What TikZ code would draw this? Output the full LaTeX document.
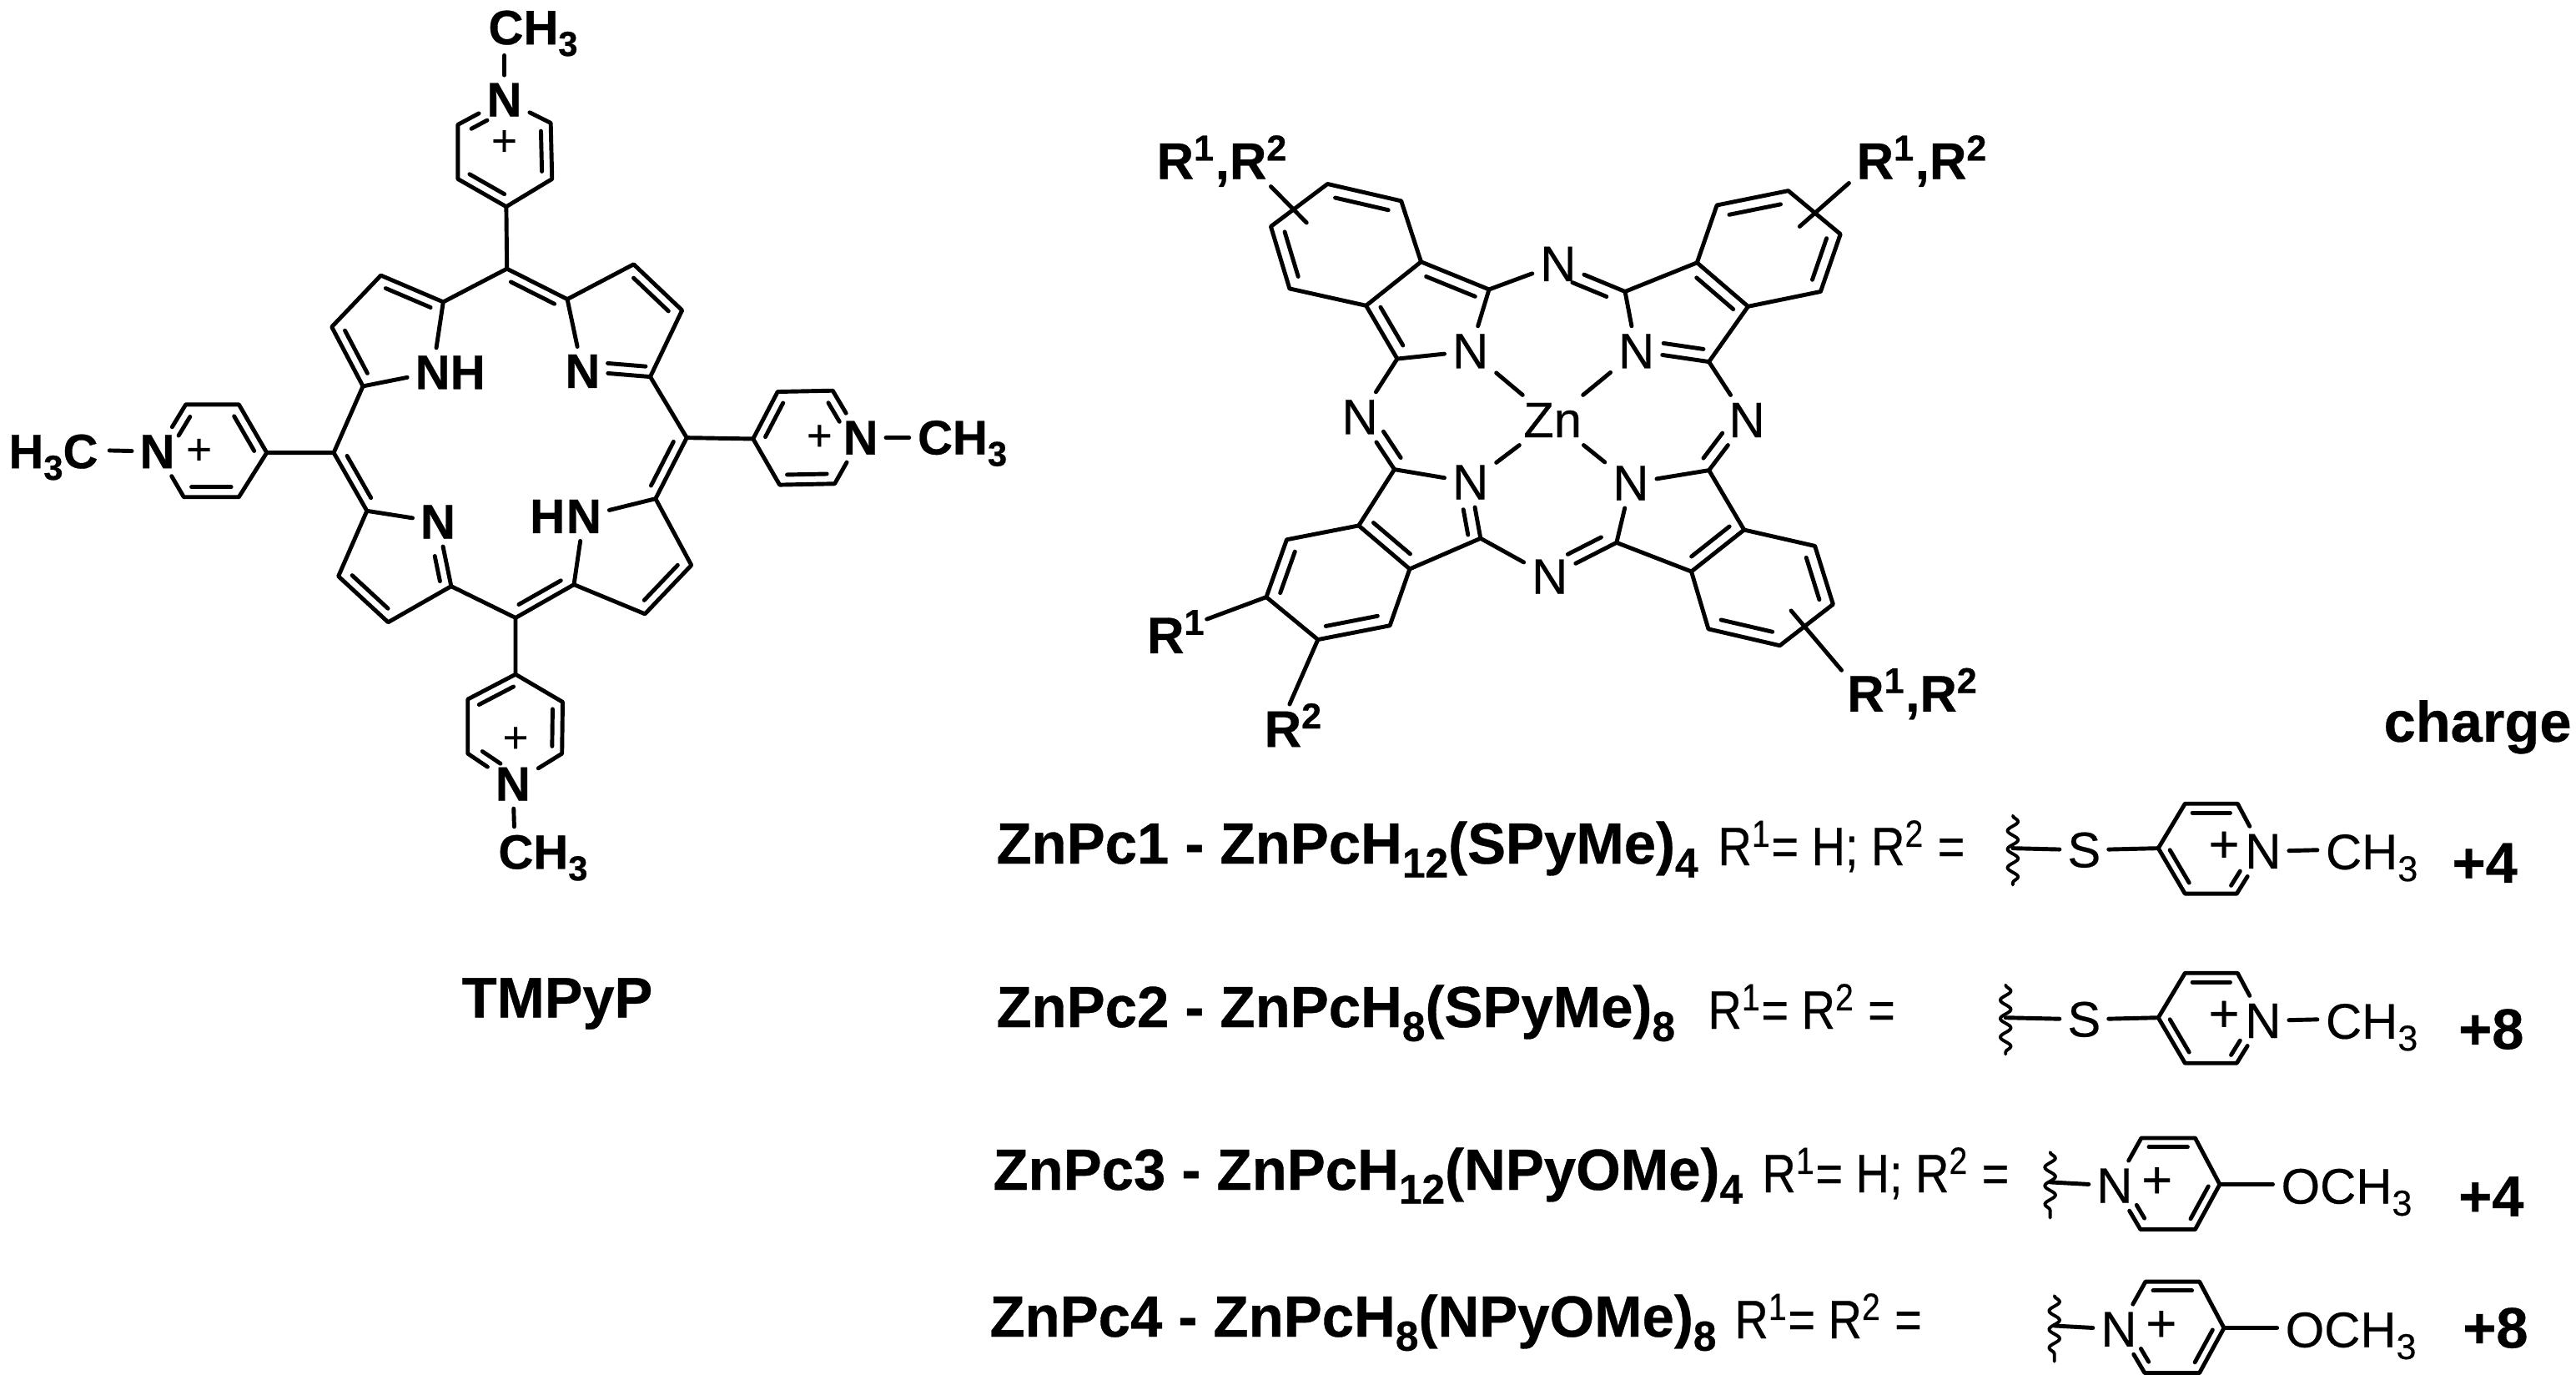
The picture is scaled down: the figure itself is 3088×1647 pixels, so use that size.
\documentclass[tikz,border=0pt]{standalone}
\usepackage{fontspec}
\setmainfont{Liberation Sans}[FakeBold=0.35,BoldFeatures={FakeBold=0.5}]
\newfontfamily\narrowfont{Liberation Sans}[FakeStretch=0.86,FakeBold=0.35]
\newfontfamily\titlefont{Liberation Sans Bold}[FakeStretch=0.99,FakeBold=0.5]
\usetikzlibrary{calc,decorations.pathmorphing}
\def\bgap{3.4pt}
\newcommand{\sbs}[1]{\raisebox{-.24em}{\scalebox{.72}{#1}}}
\newcommand{\dblp}[4]{\draw ($(#1)!#3!(#2)!\bgap!90:(#2)$) -- ($(#1)!#4!(#2)!\bgap!90:(#2)$);}
\newcommand{\dbl}[2]{\dblp{#1}{#2}{.14}{.86}}
\begin{document}
\begin{tikzpicture}[x=0.01cm,y=-0.01cm,line width=1.4pt,line cap=round,line join=round,
atom/.style={inner sep=2pt,font=\bfseries\fontsize{16.5}{18}\selectfont},
group/.style={inner sep=0pt,anchor=base west,font=\bfseries\fontsize{16.5}{18}\selectfont},
ratom/.style={inner sep=2pt,font=\fontsize{17}{18}\selectfont},
rgroup/.style={inner sep=0pt,anchor=base west,font=\fontsize{17}{18}\selectfont},
plusb/.style={inner sep=0pt,font=\fontsize{15}{18}\selectfont},
plusr/.style={inner sep=0pt,font=\fontsize{18}{18}\selectfont},
rlabel/.style={inner sep=0pt,anchor=base west,font=\bfseries\fontsize{17.5}{18}\selectfont},
title/.style={inner sep=0pt,anchor=base west,font=\titlefont\fontsize{19.8}{22}\selectfont},
subst/.style={inner sep=0pt,anchor=base west,font=\narrowfont\fontsize{18.5}{20}\selectfont},
charge/.style={inner sep=0pt,font=\bfseries\fontsize{19.5}{22}\selectfont},
wavy/.style={line width=1.1pt,decorate,decoration={snake,amplitude=1.8pt,segment length=6.3pt}}]
\useasboundingbox (0,0) rectangle (3088,1647);
\node[charge] (tmpyp) at (668,1203) {TMPyP};
\begin{scope}[shift={(0,0)},x=0.007955cm,y=-0.006631cm]
\coordinate (a1) at (668,545); \coordinate (a2) at (574,497); \coordinate (a3) at (500,590); \coordinate (a4) at (547,697);
\coordinate (b1) at (855,540); \coordinate (b2) at (955,477); \coordinate (b3) at (1028,560); \coordinate (b4) at (980,680);
\coordinate (c1) at (988,900); \coordinate (c2) at (1042,1020); \coordinate (c3) at (972,1108); \coordinate (c4) at (865,1055);
\coordinate (d1) at (553,922); \coordinate (d2) at (510,1040); \coordinate (d3) at (585,1123); \coordinate (d4) at (680,1058);
\coordinate (m1) at (764,485); \coordinate (m2) at (1035,790); \coordinate (m3) at (777,1115); \coordinate (m4) at (503,817);
\node[atom] (nA) at (652,672) {N};
\node[atom] (hA) at (705,672) {H};
\node[atom] (nB) at (878,670) {N};
\node[atom] (nC) at (880,932) {N};
\node[atom] (hC) at (825,932) {H};
\node[atom] (nD) at (660,942) {N};
\draw (a1) -- (a2) -- (a3) -- (a4) -- (nA) -- (a1) -- (m1) -- (b1) -- (b2) -- (b3) -- (b4) -- (nB) -- (b1);
\draw (b4) -- (m2) -- (c1) -- (c2) -- (c3) -- (c4) -- (nC) -- (c1);
\draw (c4) -- (m3) -- (d4) -- (d3) -- (d2) -- (d1) -- (nD) -- (d4);
\draw (d1) -- (m4) -- (a4);
\dbl{a1}{a2}
\dbl{a3}{a4}
\dbl{b1}{m1}
\dbl{b3}{b2}
\dblp{nB}{b4}{.36}{.92}
\dbl{c1}{m2}
\dbl{c3}{c2}
\dbl{m3}{c4}
\dbl{d2}{d3}
\dblp{d4}{nD}{.11}{.5}
\dbl{m4}{d1}
\coordinate (t4) at (763,373); \coordinate (t3) at (832,323); \coordinate (t2) at (830,222); \coordinate (t6) at (690,225); \coordinate (t5) at (690,323);
\node[atom] (nT) at (760,180) {N};
\node[plusb] (pT) at (760,258) {+};
\coordinate (tMe) at (760,100);
\node[group] (meT) at (733,80) {CH\sbs{3}};
\draw (m1) -- (t4) -- (t3) -- (t2) -- (nT) -- (t6) -- (t5) -- (t4);
\draw (nT) -- (tMe);
\dbl{t3}{t2}
\dbl{t5}{t4}
\dblp{nT}{t6}{.47}{.81}
\coordinate (r4) at (1135,792); \coordinate (r5) at (1172,707); \coordinate (r6) at (1255,705); \coordinate (r2) at (1258,873); \coordinate (r3) at (1175,875);
\node[atom] (nR) at (1297,790) {N};
\node[plusb] (pR) at (1235,790) {+};
\coordinate (rMe) at (1370,790);
\node[group] (meR) at (1380,820) {CH\sbs{3}};
\draw (m2) -- (r4) -- (r5) -- (r6) -- (nR) -- (r2) -- (r3) -- (r4);
\draw (nR) -- (rMe);
\dbl{r5}{r4}
\dbl{r3}{r2}
\dblp{nR}{r6}{.45}{.85}
\coordinate (l4) at (402,817); \coordinate (l5) at (360,730); \coordinate (l6) at (280,730); \coordinate (l2) at (277,897); \coordinate (l3) at (360,897);
\node[atom] (nL) at (237,815) {N};
\node[plusb] (pL) at (300,815) {+};
\coordinate (lMe) at (165,813);
\node[group] (meL) at (10,845) {H\sbs{3}C};
\draw (m4) -- (l4) -- (l5) -- (l6) -- (nL) -- (l2) -- (l3) -- (l4);
\draw (nL) -- (lMe);
\dbl{l4}{l5}
\dbl{l2}{l3}
\dblp{l6}{nL}{.15}{.55}
\coordinate (q4) at (777,1217); \coordinate (q3) at (848,1267); \coordinate (q2) at (847,1360); \coordinate (q6) at (705,1360); \coordinate (q5) at (705,1262);
\node[atom] (nQ) at (773,1415) {N};
\node[plusb] (pQ) at (777,1335) {+};
\coordinate (qMe) at (775,1492);
\node[group] (meQ) at (748,1568) {CH\sbs{3}};
\draw (m3) -- (q4) -- (q3) -- (q2) -- (nQ) -- (q6) -- (q5) -- (q4);
\draw (nQ) -- (qMe);
\dbl{q4}{q5}
\dbl{q2}{q3}
\dblp{q6}{nQ}{.2}{.6}
\end{scope}
\begin{scope}[shift={(1340,120)},x=0.006793cm,y=-0.005102cm]
\def\bgap{4pt}
\coordinate (p1) at (535,380); \coordinate (p2) at (438,483); \coordinate (p3) at (493,608); \coordinate (p4) at (655,445);
\coordinate (p5) at (370,197); \coordinate (p6) at (500,237); \coordinate (p7) at (303,443); \coordinate (p8) at (270,297);
\coordinate (s1) at (895,450); \coordinate (s2) at (1022,382); \coordinate (s3) at (1112,485); \coordinate (s4) at (1043,615);
\coordinate (s5) at (1057,247); \coordinate (s6) at (1183,213); \coordinate (s7) at (1275,315); \coordinate (s8) at (1240,450);
\coordinate (u1) at (1043,870); \coordinate (u2) at (1105,1010); \coordinate (u3) at (1012,1108); \coordinate (u4) at (880,1040);
\coordinate (u5) at (1230,1048); \coordinate (u6) at (1262,1185); \coordinate (u7) at (1168,1282); \coordinate (u8) at (1042,1243);
\coordinate (v1) at (640,1030); \coordinate (v2) at (515,1102); \coordinate (v3) at (425,1000); \coordinate (v4) at (488,868);
\coordinate (v5) at (298,1033); \coordinate (v6) at (262,1168); \coordinate (v7) at (353,1268); \coordinate (v8) at (480,1235);
\node[ratom] (zn) at (767,752) {Zn};
\node[ratom] (nP) at (622,590) {N};
\node[ratom] (nS) at (915,590) {N};
\node[ratom] (nU) at (905,900) {N};
\node[ratom] (nV) at (622,898) {N};
\node[ratom] (mT) at (777,385) {N};
\node[ratom] (mR) at (1110,752) {N};
\node[ratom] (mB) at (762,1120) {N};
\node[ratom] (mL) at (427,745) {N};
\draw (p1) -- (p2) -- (p3) -- (nP) -- (p4) -- (p1);
\draw (p1) -- (p6) -- (p5) -- (p8) -- (p7) -- (p2);
\draw (p4) -- (mT) -- (s1) -- (s2) -- (s3) -- (s4) -- (nS) -- (s1);
\draw (s2) -- (s5) -- (s6) -- (s7) -- (s8) -- (s3);
\draw (s4) -- (mR) -- (u1) -- (u2) -- (u3) -- (u4) -- (nU) -- (u1);
\draw (u2) -- (u5) -- (u6) -- (u7) -- (u8) -- (u3);
\draw (u4) -- (mB) -- (v1) -- (v2) -- (v3) -- (v4) -- (nV) -- (v1);
\draw (v3) -- (v5) -- (v6) -- (v7) -- (v8) -- (v2);
\draw (v4) -- (mL) -- (p3);
\draw (zn) -- (nP);
\draw (zn) -- (nS);
\draw (zn) -- (nU);
\draw (zn) -- (nV);
\dbl{p4}{p1}
\dbl{p2}{p3}
\dbl{p6}{p5}
\dbl{p8}{p7}
\dblp{s1}{mT}{.21}{.72}
\dbl{s3}{s2}
\dblp{nS}{s4}{.35}{.9}
\dbl{s6}{s5}
\dbl{s8}{s7}
\dblp{u1}{mR}{.1}{.6}
\dbl{u3}{u2}
\dblp{mB}{u4}{.35}{.85}
\dbl{u6}{u5}
\dbl{u8}{u7}
\dblp{v1}{nV}{.1}{.55}
\dbl{v3}{v2}
\dbl{v5}{v6}
\dbl{v7}{v8}
\dblp{mL}{v4}{.4}{.9}
\coordinate (x1a) at (270,203); \coordinate (x1b) at (333,288);
\coordinate (x2a) at (1290,195); \coordinate (x2b) at (1203,297);
\coordinate (x3a) at (1188,1200); \coordinate (x3b) at (1277,1340);
\coordinate (x4) at (157,1220); \coordinate (x5) at (303,1420);
\draw (x1a) -- (x1b);
\draw (x2a) -- (x2b);
\draw (x3a) -- (x3b);
\draw (v6) -- (x4);
\draw (v7) -- (x5);
\node[rlabel] (rTL) at (65,185) {R\textsuperscript{1},R\textsuperscript{2}};
\node[rlabel] (rTR) at (1300,185) {R\textsuperscript{1},R\textsuperscript{2}};
\node[rlabel] (rBR) at (1283,1437) {R\textsuperscript{1},R\textsuperscript{2}};
\node[rlabel] (rBa) at (48,1300) {R\textsuperscript{1}};
\node[rlabel] (rBb) at (255,1520) {R\textsuperscript{2}};
\end{scope}
\node[title] (pc1) at (1192,1035) {ZnPc1 - ZnPcH\sbs{12}(SPyMe)\sbs{4}};
\node[title] (pc2) at (1192,1231) {ZnPc2 - ZnPcH\sbs{8}(SPyMe)\sbs{8}};
\node[title] (pc3) at (1188,1426) {ZnPc3 - ZnPcH\sbs{12}(NPyOMe)\sbs{4}};
\node[title] (pc4) at (1184,1602) {ZnPc4 - ZnPcH\sbs{8}(NPyOMe)\sbs{8}};
\node[subst] (sb1) at (2057,1037) {R\textsuperscript{1}= H; R\textsuperscript{2} =};
\node[subst] (sb2) at (2045,1233) {R\textsuperscript{1}= R\textsuperscript{2} =};
\node[subst] (sb3) at (2110,1429) {R\textsuperscript{1}= H; R\textsuperscript{2} =};
\node[subst] (sb4) at (2077,1604) {R\textsuperscript{1}= R\textsuperscript{2} =};
\begin{scope}[shift={(2300,820)},x=0.005084cm,y=-0.005336cm]
\def\bgap{3.1pt}
\node[charge] (chg) at (1318,96) {charge};
\node[charge] (q1) at (1335,401) {+4};
\node[charge] (q2) at (1350,774) {+8};
\node[charge] (q3) at (1350,1149) {+4};
\node[charge] (q4) at (1360,1444) {+8};
\foreach \row/\sy/\wx in {a/0/222,b/380/205}{
\begin{scope}[shift={(0,\sy)}]
\coordinate (w1\row) at (\wx,295); \coordinate (w2\row) at (\wx,450); \coordinate (w3\row) at (\wx,368);
\coordinate (g1\row) at (565,368); \coordinate (g2\row) at (628,470); \coordinate (g3\row) at (750,470); \coordinate (g5\row) at (752,268); \coordinate (g6\row) at (628,268);
\coordinate (gMe\row) at (940,372);
\node[ratom] (sG\row) at (390,372) {S};
\node[ratom] (nG\row) at (812,375) {N};
\node[plusr] (pG\row) at (720,365) {+};
\node[rgroup] (meG\row) at (955,415) {CH\sbs{3}};
\draw[wavy] (w1\row) -- (w2\row);
\draw (w3\row) -- (sG\row) -- (g1\row) -- (g2\row) -- (g3\row) -- (nG\row) -- (g5\row) -- (g6\row) -- (g1\row);
\draw (nG\row) -- (gMe\row);
\dbl{g5\row}{g6\row}
\dbl{g1\row}{g2\row}
\dblp{g3\row}{nG\row}{.08}{.42}
\end{scope}
}
\foreach \row/\sx/\sy in {c/0/0,d/10/322}{
\begin{scope}[shift={(\sx,\sy)}]
\coordinate (w1\row) at (310,1050); \coordinate (w2\row) at (310,1197); \coordinate (w3\row) at (310,1117);
\coordinate (h2\row) at (525,1018); \coordinate (h3\row) at (652,1018); \coordinate (h4\row) at (710,1122); \coordinate (h5\row) at (652,1223); \coordinate (h6\row) at (523,1223);
\coordinate (hMe\row) at (835,1122);
\node[ratom] (nH\row) at (462,1125) {N};
\node[plusr] (pH\row) at (562,1118) {+};
\node[rgroup] (meH\row) at (850,1165) {OCH\sbs{3}};
\draw[wavy] (w1\row) -- (w2\row);
\draw (w3\row) -- (nH\row) -- (h2\row) -- (h3\row) -- (h4\row) -- (h5\row) -- (h6\row) -- (nH\row);
\draw (h4\row) -- (hMe\row);
\dbl{h3\row}{h2\row}
\dbl{h5\row}{h4\row}
\dblp{nH\row}{h6\row}{.55}{.85}
\end{scope}
}
\end{scope}
\end{tikzpicture}
\end{document}
